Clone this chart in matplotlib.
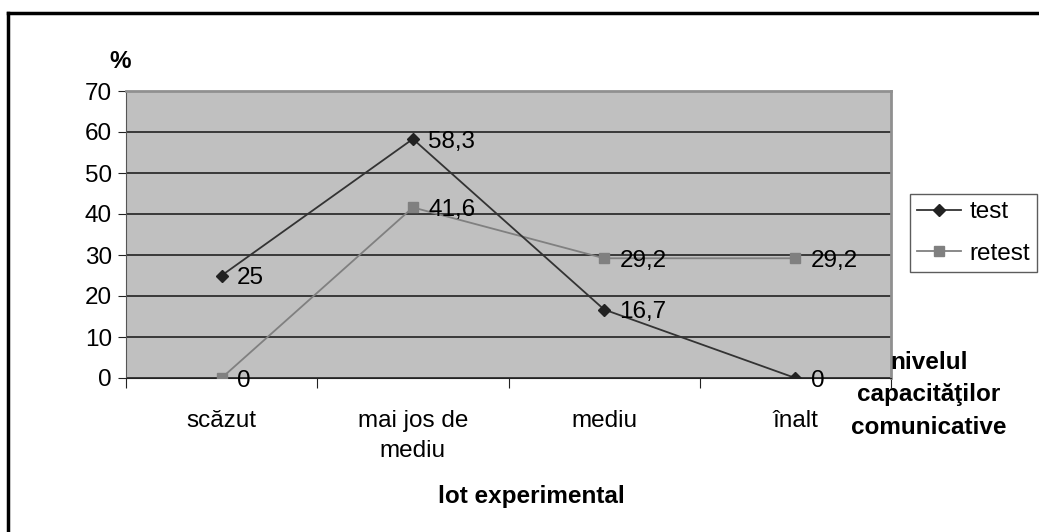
import matplotlib.pyplot as plt
from matplotlib.lines import Line2D

plt.rcParams['font.family'] = ['Liberation Sans', 'DejaVu Sans']

categorii = ['scăzut', 'mai jos de\nmediu', 'mediu', 'înalt']
test = [25, 58.3, 16.7, 0]
retest = [0, 41.6, 29.2, 29.2]
etichete_test = ['25', '58,3', '16,7', '0']
etichete_retest = ['0', '41,6', '29,2', '29,2']

fs = 17.5

fig = plt.figure(figsize=(10.39, 5.32), dpi=100)
ax = fig.add_axes([126/1039, 1 - 378/532, 765/1039, 287/532])
ax.set_facecolor('#c0c0c0')

x = list(range(len(categorii)))
ax.plot(x, retest, color='#808080', lw=1.3, marker='s', ms=7, mfc='#808080', mec='#808080', label='retest', zorder=3)
ax.plot(x, test, color='#333333', lw=1.3, marker='D', ms=6, mfc='#222222', mec='#222222', label='test', zorder=4)

for i in x:
    ax.annotate(etichete_test[i], (i, test[i]), xytext=(11, -2), textcoords='offset points',
                ha='left', va='center', fontsize=fs, zorder=5)
    ax.annotate(etichete_retest[i], (i, retest[i]), xytext=(11, -2), textcoords='offset points',
                ha='left', va='center', fontsize=fs, zorder=5)

ax.set_ylim(0, 70)
ax.set_xlim(-0.5, 3.5)
ax.set_yticks(range(0, 71, 10))
ax.yaxis.grid(True, color='#222222', lw=1.2)
ax.set_axisbelow(True)
ax.tick_params(axis='y', labelsize=fs, length=6, direction='out', color='#222222', pad=4)

ax.set_xticks([-0.5, 0.5, 1.5, 2.5, 3.5])
ax.set_xticklabels([])
ax.tick_params(axis='x', which='major', length=7, direction='out', color='#222222')
ax.set_xticks(x, minor=True)
ax.set_xticklabels(categorii, minor=True, fontsize=fs, linespacing=1.45, va='top')
ax.tick_params(axis='x', which='minor', length=0, pad=23)

ax.spines['top'].set_color('#909090')
ax.spines['right'].set_color('#909090')
ax.spines['top'].set_linewidth(2)
ax.spines['right'].set_linewidth(2)
ax.spines['left'].set_color('#555555')
ax.spines['bottom'].set_color('#222222')

fig.text(120/1039, 1 - 62/532, '%', fontsize=fs, fontweight='bold', ha='center', va='center')
fig.text(531/1039, 1 - 497/532, 'lot experimental', fontsize=fs, fontweight='bold', ha='center', va='center')
fig.text(929/1039, 1 - 395/532, 'nivelul\ncapacităţilor\ncomunicative', fontsize=fs, fontweight='bold',
         ha='center', va='center', linespacing=1.55)

handles = [Line2D([], [], color='#333333', lw=1.3, marker='D', ms=6, mfc='#222222', mec='#222222'),
           Line2D([], [], color='#808080', lw=1.3, marker='s', ms=7, mfc='#808080', mec='#808080')]
leg = fig.legend(handles, ['test', 'retest'], loc='upper left', bbox_to_anchor=(910/1039, 1 - 194/532),
                 fontsize=fs, frameon=True, fancybox=False, edgecolor='#333333', handlelength=1.8,
                 handletextpad=0.35, borderpad=0.3, labelspacing=0.8, borderaxespad=0)
leg.get_frame().set_linewidth(1.0)

# chenarul exterior (doar sus si stanga)
fig.add_artist(Line2D([8/1039, 8/1039], [0, 1 - 13/532], color='black', lw=2.5, transform=fig.transFigure))
fig.add_artist(Line2D([8/1039, 1], [1 - 13/532, 1 - 13/532], color='black', lw=2.5, transform=fig.transFigure))

fig.savefig('out.png', dpi=100)
